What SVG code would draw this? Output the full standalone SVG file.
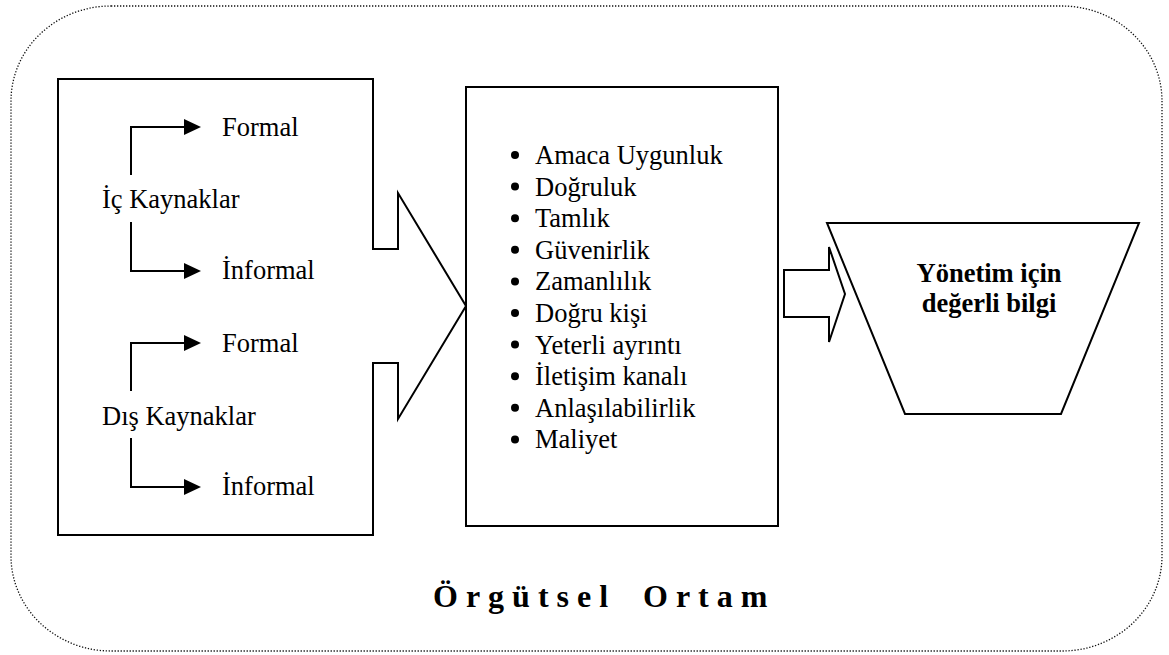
<svg xmlns="http://www.w3.org/2000/svg" width="1169" height="655" viewBox="0 0 1169 655" font-family="Liberation Serif, DejaVu Serif, serif">
  <style>
    .shape { fill: #ffffff; stroke: #000000; stroke-width: 2; stroke-linejoin: miter; }
    .line { fill: none; stroke: #000000; stroke-width: 2; }
    .frame { fill: none; stroke: #111111; stroke-width: 1.3; stroke-dasharray: 1.3 1.7; }
    text { font-family: Liberation Serif, DejaVu Serif, serif; }
    .txt { font-size: 26.5px; fill: #000000; }
    .bold { font-weight: bold; }
    .title { font-size: 32px; font-weight: bold; letter-spacing: 8px; fill: #000000; }
  </style>
  <defs>
    <marker id="head" markerUnits="userSpaceOnUse" markerWidth="18" markerHeight="16" refX="1" refY="8" orient="auto">
      <path d="M0,0 L17,8 L0,16 Z" fill="#000000"/>
    </marker>
  </defs>

  <rect width="1169" height="655" fill="#ffffff"/>

  <!-- organisational environment frame -->
  <g id="environment">
    <rect class="frame" x="11" y="6" width="1151" height="645" rx="100" ry="95"/>
    <text class="title" x="433" y="607">Örgütsel</text>
    <text class="title" x="643" y="607">Ortam</text>
  </g>

  <!-- sources box with its arrow into the criteria box -->
  <g id="sources">
    <path class="shape" d="M58,79 H373 V249 H398 V193 L466,306 L398,419 V363 H373 V535 H58 Z"/>
    <text class="txt" x="102" y="208">İç Kaynaklar</text>
    <text class="txt" x="222" y="136">Formal</text>
    <text class="txt" x="222" y="279">İnformal</text>
    <text class="txt" x="102" y="425">Dış Kaynaklar</text>
    <text class="txt" x="222" y="352">Formal</text>
    <text class="txt" x="222" y="495">İnformal</text>
  </g>

  <!-- criteria box -->
  <g id="criteria">
    <rect class="shape" x="466" y="87" width="312" height="439"/>
    <g fill="#000000">
      <circle cx="515" cy="155" r="4"/>
      <circle cx="515" cy="186.6" r="4"/>
      <circle cx="515" cy="218.2" r="4"/>
      <circle cx="515" cy="249.8" r="4"/>
      <circle cx="515" cy="281.4" r="4"/>
      <circle cx="515" cy="313" r="4"/>
      <circle cx="515" cy="344.6" r="4"/>
      <circle cx="515" cy="376.2" r="4"/>
      <circle cx="515" cy="407.8" r="4"/>
      <circle cx="515" cy="439.4" r="4"/>
    </g>
    <text class="txt" x="535" y="164">Amaca Uygunluk</text>
    <text class="txt" x="535" y="195.6">Doğruluk</text>
    <text class="txt" x="535" y="227.2">Tamlık</text>
    <text class="txt" x="535" y="258.8">Güvenirlik</text>
    <text class="txt" x="535" y="290.4">Zamanlılık</text>
    <text class="txt" x="535" y="322">Doğru kişi</text>
    <text class="txt" x="535" y="353.6">Yeterli ayrıntı</text>
    <text class="txt" x="535" y="385.2">İletişim kanalı</text>
    <text class="txt" x="535" y="416.8">Anlaşılabilirlik</text>
    <text class="txt" x="535" y="448.4">Maliyet</text>
  </g>

  <!-- block arrow towards the result -->
  <g id="flow-arrow">
    <path class="shape" d="M784,270 H829 V247 L845,294 L829,342 V317 H784 Z"/>
  </g>

  <!-- result funnel -->
  <g id="result">
    <polygon class="shape" points="827,223 1139,223 1061,414 905,414"/>
    <text class="txt bold" x="989" y="282" text-anchor="middle">Yönetim için</text>
    <text class="txt bold" x="989" y="312" text-anchor="middle">değerli bilgi</text>
  </g>

  <!-- branch connectors inside the sources box -->
  <g id="connectors">
    <path class="line" d="M131,175 V127 H185" marker-end="url(#head)"/>
    <path class="line" d="M131,222 V271 H185" marker-end="url(#head)"/>
    <path class="line" d="M131,391 V343 H185" marker-end="url(#head)"/>
    <path class="line" d="M131,438 V487 H185" marker-end="url(#head)"/>
  </g>
</svg>
